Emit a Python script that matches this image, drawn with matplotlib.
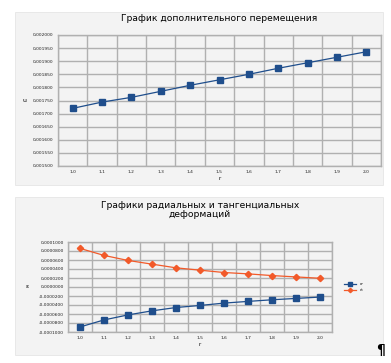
import numpy as np
import matplotlib
matplotlib.use("Agg")
import matplotlib.pyplot as plt
from matplotlib.patches import Rectangle
from matplotlib.ticker import FixedLocator, FuncFormatter

plt.rcParams['font.family'] = ['DejaVu Sans']

# радиус
r = [1.0, 1.1, 1.2, 1.3, 1.4, 1.5, 1.6, 1.7, 1.8, 1.9, 2.0]
r_labels = [f"{v:.1f}".replace(".", ",") for v in r]

# дополнительное перемещение
u = [0.001720, 0.001744, 0.001762, 0.001785, 0.001808, 0.001829,
     0.001850, 0.001873, 0.001894, 0.001915, 0.001936]

# радиальные и тангенциальные деформации
eps_r = [-8.88e-5, -7.32e-5, -6.20e-5, -5.30e-5, -4.56e-5, -4.10e-5,
         -3.58e-5, -3.20e-5, -2.84e-5, -2.54e-5, -2.24e-5]
eps_t = [8.58e-5, 7.02e-5, 5.90e-5, 5.08e-5, 4.26e-5, 3.74e-5,
         3.22e-5, 2.92e-5, 2.54e-5, 2.24e-5, 1.94e-5]

W, H = 391, 363
fig = plt.figure(figsize=(W / 100, H / 100), dpi=100)
fig.patch.set_facecolor("white")

blue = "#1f4e8c"
orange = "#f25a2a"
grid_c = "#b0b0b0"


def box(x0, y0, x1, y1):
    fig.patches.append(Rectangle((x0 / W, 1 - y1 / H), (x1 - x0) / W, (y1 - y0) / H,
                                 transform=fig.transFigure, facecolor="#f3f3f3",
                                 edgecolor="#e6e6e6", lw=0.6, zorder=-5))


def axes_px(x0, y0, x1, y1):
    return fig.add_axes([x0 / W, 1 - y1 / H, (x1 - x0) / W, (y1 - y0) / H])


def style(ax, ymin, ymax, step, fmt):
    n = len(r)
    ax.set_facecolor("#f3f3f3")
    ax.set_xlim(-0.5, n - 0.5)
    ax.set_ylim(ymin, ymax)
    ax.set_xticks(range(n))
    ax.set_xticklabels(r_labels)
    ax.xaxis.set_minor_locator(FixedLocator(np.arange(-0.5, n, 1.0)))
    ax.set_yticks(np.linspace(ymin, ymax, int(round((ymax - ymin) / step)) + 1))
    ax.yaxis.set_major_formatter(FuncFormatter(lambda v, p: fmt(v)))
    ax.grid(True, which="minor", axis="x", color=grid_c, lw=1.0)
    ax.grid(True, which="major", axis="y", color=grid_c, lw=1.0)
    ax.tick_params(axis="both", which="both", length=0, labelsize=3.2, pad=3,
                   labelcolor="#222222")
    for s in ax.spines.values():
        s.set_color(grid_c)
        s.set_linewidth(1.0)
    ax.set_axisbelow(True)


# ---- верхний график
box(15, 12, 383, 185)
ax1 = axes_px(58, 35, 381, 166)
style(ax1, 0.00150, 0.00200, 0.00005, lambda v: f"{v:.6f}".replace(".", ","))
ax1.plot(range(len(r)), u, color=blue, lw=0.9, marker="s", ms=4.5)
ax1.set_title("График дополнительного перемещения", fontsize=6.6, pad=10)
ax1.set_xlabel("r", fontsize=4, labelpad=1)
ax1.set_ylabel("u", fontsize=4.5, rotation=0, labelpad=6, va="center")

# ---- нижний график
box(15, 197, 383, 355)
ax2 = axes_px(68, 242, 332, 332)
style(ax2, -1e-4, 1e-4, 2e-5, lambda v: f"{v:.7f}".replace(".", ","))
ax2.plot(range(len(r)), eps_r, color=blue, lw=0.9, marker="s", ms=4.5, label="εr")
ax2.plot(range(len(r)), eps_t, color=orange, lw=0.9, marker="D", ms=3.2, label="εt")
ax2.set_title("Графики радиальных и тангенциальных\nдеформаций", fontsize=6.6, pad=18,
              linespacing=0.95)
ax2.set_xlabel("r", fontsize=4, labelpad=1)
ax2.set_ylabel("ε", fontsize=4.5, rotation=0, labelpad=8, va="center")
ax2.legend(loc="center left", bbox_to_anchor=(1.03, 0.5), fontsize=3, frameon=False,
           handlelength=3, markerscale=0.7)

fig.text(381 / W, 1 - 350 / H, "¶", fontsize=10, fontweight="bold", ha="center", va="center")

fig.savefig("out.png", dpi=100)
